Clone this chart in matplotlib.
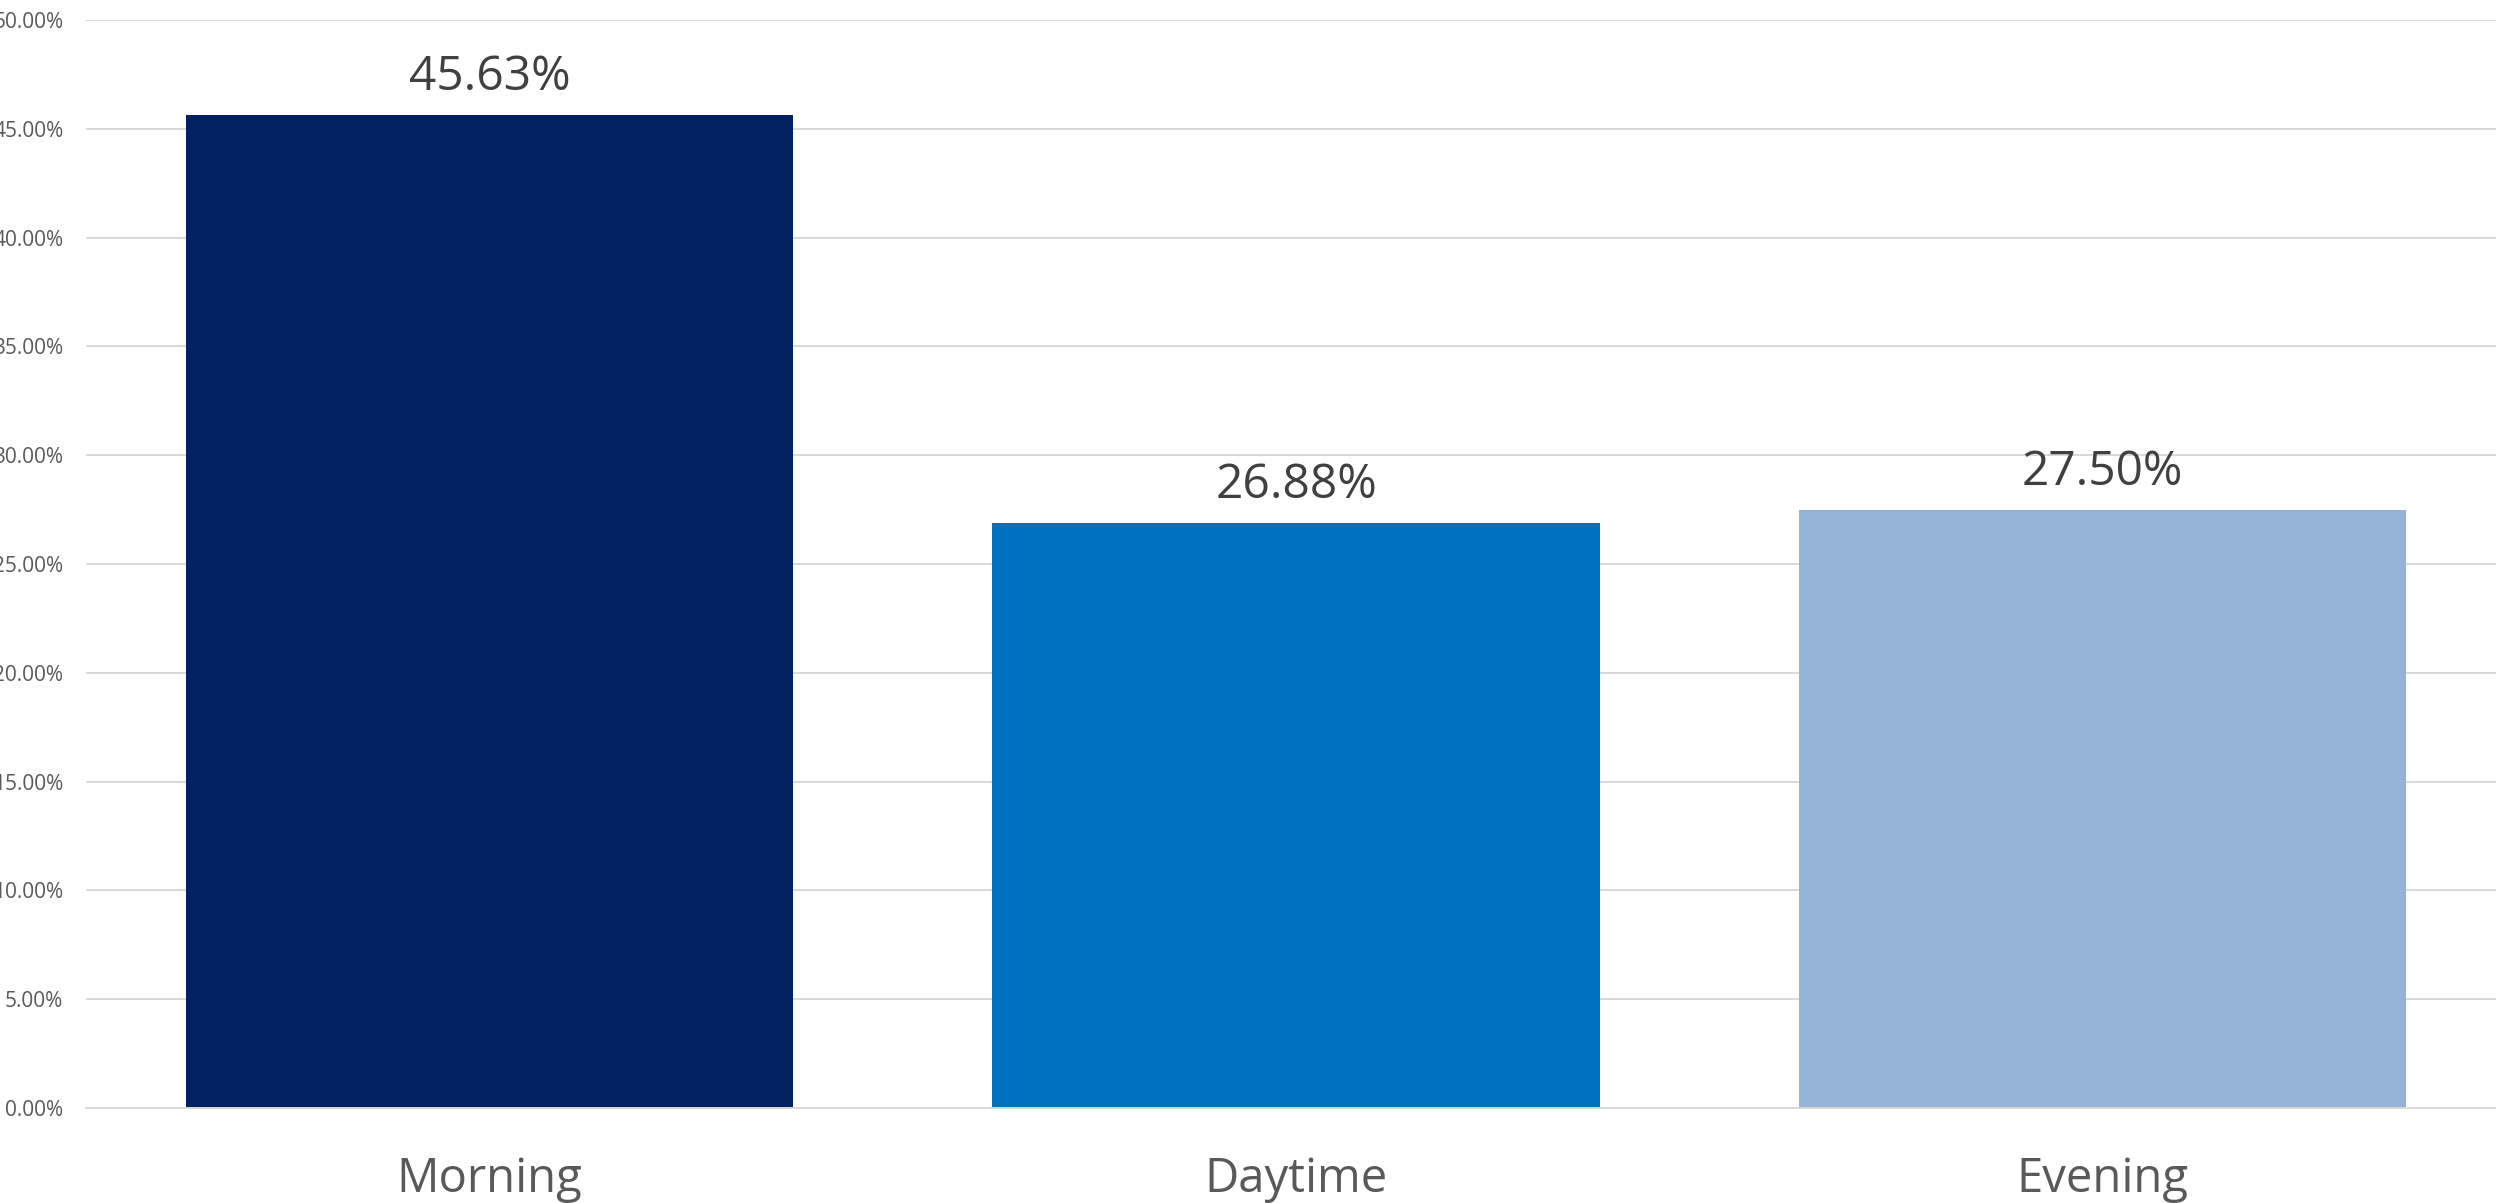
# -*- coding: utf-8 -*-

"""Share of activity by time of day (bar chart)."""

# *****************************************************************************
# *** Import modules
import matplotlib
matplotlib.use('Agg')
import matplotlib.pyplot as plt
from matplotlib.ticker import PercentFormatter
# *****************************************************************************


# *****************************************************************************
# *** Data

# Categories:
lstCat = ['Morning', 'Daytime', 'Evening']

# Shares (percent):
lstVal = [45.63, 26.88, 27.50]

# Bar colours:
lstClr = ['#002060', '#0070C0', '#95B3D7']

# Y ticks (percent):
lstYtck = [0, 5, 10, 15, 20, 25, 30, 35, 40, 45, 50]
# *****************************************************************************


# *****************************************************************************
# *** Figure parameters
varSizeX = 2496.0
varSizeY = 1203.0
varDpi = 100.0
strFont = 'Open Sans'
strPathOut = 'out.png'
# *****************************************************************************


# *****************************************************************************
# *** Plot

plt.rcParams['font.family'] = [strFont, 'DejaVu Sans']

fgr01 = plt.figure(figsize=(varSizeX / varDpi, varSizeY / varDpi),
                   dpi=varDpi)

# Axis placed by hand (reference is cropped on left and right):
axs01 = fgr01.add_axes([86.25 / varSizeX,
                        95.0 / varSizeY,
                        2419.5 / varSizeX,
                        1088.0 / varSizeY])

vecX = list(range(len(lstCat)))

axs01.bar(vecX, lstVal, width=0.753, color=lstClr, zorder=3)

# Value labels above bars:
for idx, varVal in enumerate(lstVal):
    axs01.annotate('{:.2f}%'.format(varVal),
                   xy=(vecX[idx], varVal),
                   xytext=(0, 18),
                   textcoords='offset points',
                   ha='center', va='baseline',
                   fontsize=34.5, color='#404040')

# Axis ranges:
axs01.set_xlim(-0.5, len(lstCat) - 0.5)
axs01.set_ylim(0, 50)

# Ticks:
axs01.set_xticks(vecX)
axs01.set_xticklabels(lstCat)
axs01.set_yticks(lstYtck)
axs01.yaxis.set_major_formatter(PercentFormatter(decimals=2))

axs01.tick_params(axis='x', length=0, pad=34, labelsize=34,
                  labelcolor='#595959')
axs01.tick_params(axis='y', length=0, pad=16.5, labelsize=15,
                  labelcolor='#595959')

# Gridlines:
axs01.yaxis.grid(True, color='#d9d9d9', linewidth=1.4, zorder=0)
axs01.set_axisbelow(True)

# Frame:
for strTmp in ['top', 'left', 'right']:
    axs01.spines[strTmp].set_visible(False)
axs01.spines['bottom'].set_color('#d9d9d9')
axs01.spines['bottom'].set_linewidth(1.4)
axs01.spines['bottom'].set_zorder(4)

fgr01.savefig(strPathOut, dpi=varDpi, facecolor='w')
plt.close(fgr01)
# *****************************************************************************
